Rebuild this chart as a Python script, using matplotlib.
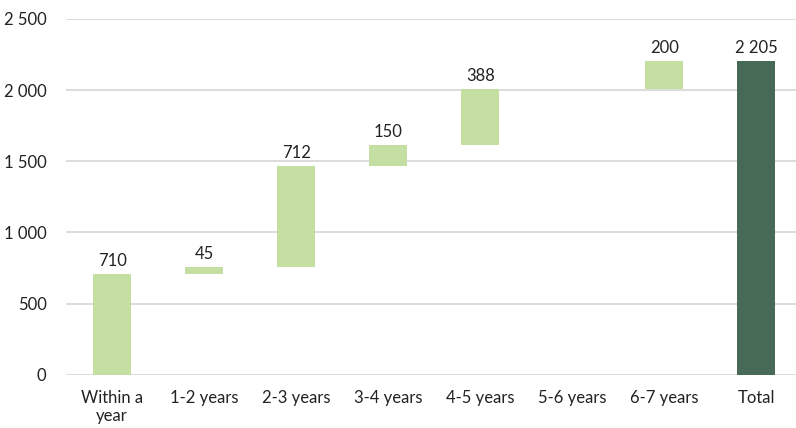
import numpy as np
import matplotlib.pyplot as plt

plt.rcParams['font.family'] = ['Lato', 'DejaVu Sans']

categories = ['Within a\nyear', '1-2 years', '2-3 years', '3-4 years', '4-5 years',
              '5-6 years', '6-7 years', 'Total']
steps = [710, 45, 712, 150, 388, 0, 200]
total = 2205

light = '#c5dfa3'
dark = '#466a55'

fig = plt.figure(figsize=(7.96, 4.28), dpi=100)
ax = fig.add_axes([0.083, 0.124, 0.925, 0.832])

bottoms = np.concatenate([[0], np.cumsum(steps)[:-1]])
x = np.arange(len(categories))
ax.bar(x[:-1], steps, bottom=bottoms, width=0.41, color=light, zorder=2)
ax.bar(x[-1], total, width=0.41, color=dark, zorder=2)

def fmt(v):
    return f'{v:,}'.replace(',', ' ')

for i, (s, b) in enumerate(zip(steps, bottoms)):
    if s == 0:
        continue
    ax.text(i, b + s + 35, fmt(s), ha='center', va='bottom', fontsize=12, color='#222222')
ax.text(x[-1], total + 35, fmt(total), ha='center', va='bottom', fontsize=12, color='#222222')

ax.set_xlim(-0.5, len(categories) - 0.5)
ax.set_ylim(0, 2500)
ax.set_yticks(np.arange(0, 2501, 500))
ax.set_yticklabels([fmt(v) for v in range(0, 2501, 500)])
ax.set_xticks(x)
ax.set_xticklabels(categories)
ax.tick_params(axis='both', length=0, labelsize=12, colors='#222222')
ax.tick_params(axis='x', pad=11)
ax.tick_params(axis='y', pad=14)
for lbl in ax.get_xticklabels():
    lbl.set_linespacing(1.15)
ax.grid(axis='y', color='#d9d9d9', linewidth=1.3, zorder=0)
for sp in ax.spines.values():
    sp.set_visible(False)

fig.savefig('out.png', dpi=100)
